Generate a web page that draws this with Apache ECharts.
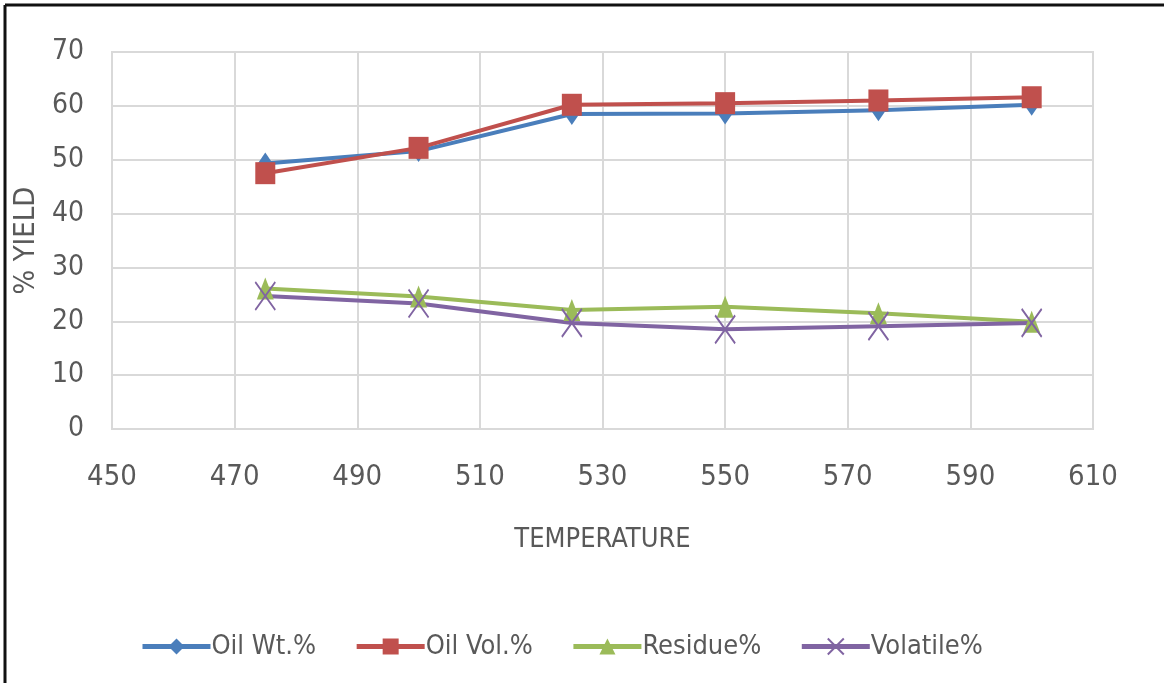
<!DOCTYPE html>
<html>
<head>
<meta charset="utf-8">
<title>Yield vs Temperature</title>
<script src="https://cdn.jsdelivr.net/npm/echarts@6/dist/echarts.min.js"></script>
<style>
  html, body { margin: 0; padding: 0; background: #ffffff; }
  #chart { width: 1164px; height: 683px; }
</style>
</head>
<body>
<div id="chart"></div>
<script>
// Pyrolysis temperatures (°C)
const temperatures = [475, 500, 525, 550, 575, 600];

// Yields (%) at each temperature
const oilWt    = [49.3, 51.6, 58.5, 58.6, 59.2, 60.2];
const oilVol   = [47.5, 52.2, 60.2, 60.5, 61.0, 61.6];
const residue  = [26.1, 24.6, 22.1, 22.7, 21.5, 19.9];
const volatile = [24.7, 23.3, 19.7, 18.5, 19.1, 19.7];

const seriesNames = ['Oil Wt.%', 'Oil Vol.%', 'Residue%', 'Volatile%'];

const FONT = "'DejaVu Sans Condensed', 'Liberation Sans Narrow', Roboto, sans-serif";
const TEXT = '#595959';

const pairs = ys => temperatures.map((t, i) => [t, ys[i]]);

const crossPath = 'path://M0,0 L10,14 M10,0 L0,14';

function lineSeries(name, values, color, symbol, size, extra) {
  return Object.assign({
    name: name,
    type: 'line',
    data: pairs(values),
    symbol: symbol,
    symbolSize: size,
    showSymbol: true,
    lineStyle: { color: color, width: 4 },
    itemStyle: { color: color },
    emphasis: { disabled: true }
  }, extra || {});
}

const chart = echarts.init(document.getElementById('chart'));
chart.setOption({
  animation: false,
  backgroundColor: '#ffffff',
  grid: { left: 112, right: 71, top: 52, bottom: 254, containLabel: false,
          show: true, borderColor: '#d9d9d9', borderWidth: 2 },
  xAxis: {
    type: 'value', min: 450, max: 610, interval: 20,
    name: 'TEMPERATURE', nameLocation: 'middle', nameGap: 97,
    nameTextStyle: { fontFamily: FONT, fontSize: 27, color: TEXT },
    axisLine: { show: true, lineStyle: { color: '#d9d9d9', width: 2 } },
    axisTick: { show: false },
    axisLabel: { fontFamily: FONT, fontSize: 29, color: TEXT, margin: 34 },
    splitLine: { show: true, lineStyle: { color: '#d9d9d9', width: 2 } }
  },
  yAxis: {
    type: 'value', min: 0, max: 70, interval: 10,
    name: '% YIELD', nameLocation: 'middle', nameGap: 68, nameRotate: 90,
    nameTextStyle: { fontFamily: FONT, fontSize: 29, color: TEXT },
    axisLine: { show: false },
    axisTick: { show: false },
    axisLabel: { fontFamily: FONT, fontSize: 28, color: TEXT, margin: 28 },
    splitLine: { show: true, lineStyle: { color: '#d9d9d9', width: 2 } }
  },
  legend: {
    bottom: 18, left: 135,
    itemWidth: 68, itemHeight: 20, itemGap: 38,
    lineStyle: { width: 5 },
    textStyle: { fontFamily: FONT, fontSize: 27, color: TEXT, padding: [0, 0, 0, -4] },
    data: seriesNames
  },
  graphic: [
    { type: 'line', shape: { x1: 5, y1: 5, x2: 1164, y2: 5 },
      style: { stroke: '#111', lineWidth: 3 } },
    { type: 'line', shape: { x1: 5, y1: 5, x2: 5, y2: 683 },
      style: { stroke: '#111', lineWidth: 3 } }
  ],
  series: [
    lineSeries(seriesNames[0], oilWt, '#4a7ebb', 'diamond', [15, 22]),
    lineSeries(seriesNames[1], oilVol, '#c0504d', 'rect', [20, 22]),
    lineSeries(seriesNames[2], residue, '#9bbb59', 'triangle', [17, 22]),
    lineSeries(seriesNames[3], volatile, '#8064a2', crossPath, [20, 28], {
      itemStyle: { color: 'none', borderColor: '#8064a2', borderWidth: 2 }
    })
  ]
});
</script>
</body>
</html>
